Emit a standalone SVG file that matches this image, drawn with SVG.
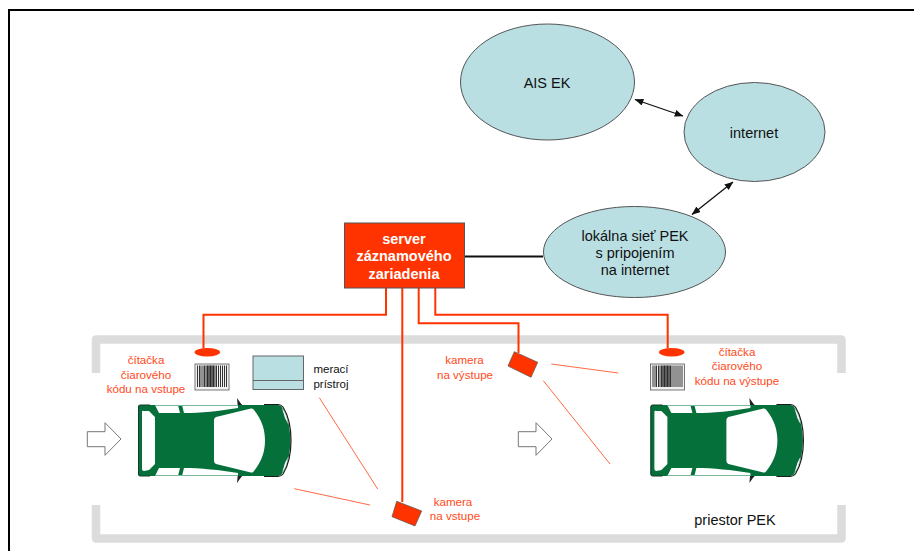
<svg xmlns="http://www.w3.org/2000/svg" width="914" height="551" viewBox="0 0 914 551">
<style>
text{font-family:"Liberation Sans",Arial,sans-serif;text-anchor:middle}
.d{font-size:14.500px;fill:#111}
.m{font-size:11.500px;fill:#111}
.r{font-size:11.600px;fill:#ff4a1a}
.e{fill:#b9dfe3;stroke:#555;stroke-width:1}
.w{fill:none;stroke:#ff3300;stroke-width:2}
.t{fill:none;stroke:#ff6a45;stroke-width:1}
.a{fill:#fff;stroke:#777;stroke-width:1}
.o{fill:#ff3300;stroke:#555;stroke-width:.7}
.k{fill:none;stroke:#111;stroke-width:1.300;marker-start:url(#h);marker-end:url(#h)}
</style>
<defs>
<marker id="h" viewBox="0 0 10 8" refX="9.500" refY="4" markerWidth="9" markerHeight="7" markerUnits="userSpaceOnUse" orient="auto-start-reverse"><path d="M0 0L10 4L0 8Z" fill="#111"/></marker>
<g id="car">
<path d="M237 398Q240 403 245 408L238 409ZM237 483Q240 478 245 473L238 472Z" fill="#222"/>
<path d="M140 405H264C270 404 278 404 281 406C287 413 290 426 290.500 440.500C290 455 287 468 281 475C278 477 270 477 264 476H140Q138 476 138 474V407Q138 405 140 405Z" fill="#06703a"/>
<path d="M264 404.500H278Q281 404.500 283 407C288 415 291 428 291 440.500C291 453 288 466 283 474Q281 476.500 278 476.500H264" fill="none" stroke="#1a1a1a" stroke-width="1.200"/>
<path d="M150 405H140Q138.500 405 138.500 407V474Q138.500 476 140 476H150" fill="none" stroke="#1a3a28" stroke-width="1"/>
<g fill="#fff">
<path d="M142 412Q142 410 144 411L149 411L155 417V464L149 470L144 471Q142 471 142 469Z"/>
<path d="M155 405H178L180 413H159Z"/>
<path d="M155 476H178L180 468H159Z"/>
<path d="M182 405H238V408C220 411 200 413 184 413Z"/>
<path d="M182 476H238V473C220 470 200 468 184 468Z"/>
<path d="M216 417L251 408.500Q253 408 254 410C262 420 265 430 265 440.500C265 451 262 461 254 471Q253 473 251 472.500L216 464Q214 463 214 461V420Q214 418 216 417Z"/>
<path d="M282 408Q287 415 288 424L285 418Z"/>
<path d="M282 473Q287 466 288 457L285 463Z"/>
</g>
<path d="M155 405.500H238M155 475.500H238" fill="none" stroke="#7db89a" stroke-width="1"/>
</g>
<g id="bar">
<rect x="0.500" y="0.500" width="34" height="26" fill="#f2f2f2" stroke="#555" stroke-width=".8"/>
<path d="M3 2V23.500M5 2V23.500M6.500 2V23.500M8.500 2V23.500M10 2V23.500M11.500 2V23.500M13 2V23.500M14.500 2V23.500M16 2V23.500M17.500 2V23.500M19 2V23.500M20.500 2V23.500M22 2V23.500M24 2V23.500M26 2V23.500M28 2V23.500M30 2V23.500M32 2V23.500" stroke="#333" stroke-width="1" fill="none"/>
<rect x="12" y="2" width="8" height="21.500" fill="#222" opacity=".45"/>
</g>
</defs>
<rect width="914" height="551" fill="#fff"/>
<path d="M9 551V10H914" fill="none" stroke="#000" stroke-width="2"/>
<path id="priestor" d="M96 373V339.500H841.500V373M96 505V538.500H841.500V505" fill="none" stroke="#dcdcdc" stroke-width="8.500" stroke-linejoin="round"/>

<g id="connectors">
<path class="k" d="M635 99.500L683 116"/>
<path class="k" d="M692 214.500L733 182"/>
<path d="M464 256.500H543" fill="none" stroke="#111" stroke-width="2"/>
<path class="w" d="M386 288V314.700H203.500V348"/>
<path class="w" d="M402.300 288V502"/>
<path class="w" d="M418.700 288V323.300H518.500V353"/>
<path class="w" d="M435.300 288V314.700H667.700V348"/>
<path class="t" d="M319.300 397.700L377.700 489M294.300 488.700L370 505M551.300 364L618.300 373M543.300 380.700L610 464"/>
</g>

<g id="ais"><ellipse class="e" cx="547.500" cy="82" rx="87" ry="58"/><text class="d" x="547" y="88">AIS EK</text></g>
<g id="internet"><ellipse class="e" cx="754.500" cy="132" rx="70.500" ry="49.500"/><text class="d" x="754" y="137.500">internet</text></g>
<g id="lokalna"><ellipse class="e" cx="634.500" cy="252" rx="91" ry="45.500"/>
<text class="d" x="635" y="240.500">lokálna sieť PEK</text><text class="d" x="635" y="258">s pripojením</text><text class="d" x="635" y="275">na internet</text></g>
<g id="server"><rect x="344.500" y="223" width="120" height="65" fill="#ff3300" stroke="#555"/>
<g fill="#fff" font-size="14.500px" font-weight="bold"><text x="404" y="244">server</text><text x="404" y="261">záznamového</text><text x="404" y="278.500">zariadenia</text></g></g>

<g id="citacka-vstup"><ellipse cx="207.300" cy="352.200" rx="12.800" ry="4.200" fill="#ff3300"/><use href="#bar" x="194.500" y="363.500"/>
<text class="r" x="146" y="364">čítačka</text><text class="r" x="146" y="379">čiarového</text><text class="r" x="146" y="393">kódu na vstupe</text></g>
<g id="citacka-vystup"><ellipse cx="671.700" cy="352.200" rx="12.800" ry="4.200" fill="#ff3300"/><use href="#bar" x="650" y="363.500"/>
<text class="r" x="737" y="356">čítačka</text><text class="r" x="737" y="370">čiarového</text><text class="r" x="737" y="385">kódu na výstupe</text></g>
<g id="meraci"><rect x="253" y="356" width="50.500" height="33.500" fill="#b9dfe3" stroke="#666"/><path d="M253 380.500H303.500" stroke="#666" fill="none"/>
<text class="m" x="331" y="373">merací</text><text class="m" x="331" y="388">prístroj</text></g>
<g id="kamera-vystup"><path class="o" d="M514.300 351.700L537.700 362.300L531 377.300L508 366Z"/><text class="r" x="464.500" y="364">kamera</text><text class="r" x="465" y="379">na výstupe</text></g>
<g id="kamera-vstup"><path class="o" d="M396.700 501.300L421.700 511L415 526L392 516.700Z"/><text class="r" x="453" y="506">kamera</text><text class="r" x="455" y="520">na vstupe</text></g>
<g id="auto1"><use href="#car"/><path class="a" d="M87.300 431.700H105V422.700L121 439L105 455.300V446.700H87.300Z"/></g>
<g id="auto2"><use href="#car" x="512.400"/><path class="a" d="M518.300 431.700H536V422.700L552 439L536 455.300V446.700H518.300Z"/></g>
<text id="priestor-label" class="d" x="735" y="525">priestor PEK</text>
</svg>
